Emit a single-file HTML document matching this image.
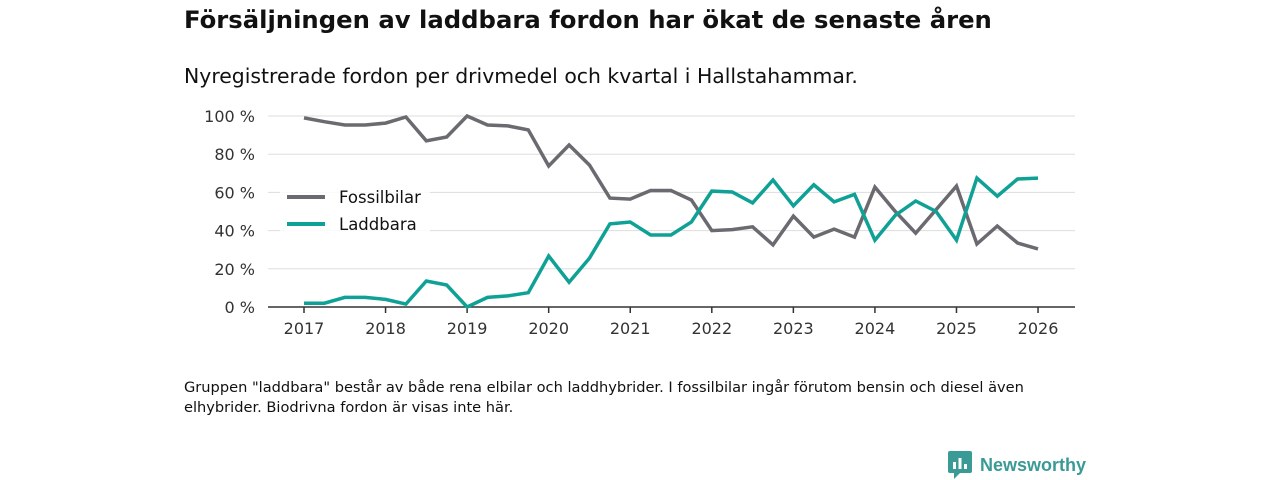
<!DOCTYPE html>
<html><head><meta charset="utf-8"><style>
body{margin:0;width:1280px;height:480px;background:#fff;font-family:"DejaVu Sans","Liberation Sans",sans-serif;color:#111;position:relative;overflow:hidden}
#title{position:absolute;left:184px;top:5px;font-size:24.3px;font-weight:bold;margin:0}
#sub{position:absolute;left:184px;top:64px;font-size:20.4px}
#note{position:absolute;left:184px;top:378px;font-size:14.6px;line-height:20px;width:900px}
#logo{position:absolute;left:948px;top:451px;display:flex;align-items:center;font-size:18px;font-weight:bold;color:#3a9a96;font-family:"Liberation Sans",sans-serif}
svg{position:absolute;left:0;top:0}
</style></head><body>
<h1 id="title">Försäljningen av laddbara fordon har ökat de senaste åren</h1>
<div id="sub">Nyregistrerade fordon per drivmedel och kvartal i Hallstahammar.</div>
<svg id="chart" width="1280" height="360"></svg>
<div id="note">Gruppen "laddbara" består av både rena elbilar och laddhybrider. I fossilbilar ingår förutom bensin och diesel även elhybrider. Biodrivna fordon är visas inte här.</div>
<div id="logo"><svg width="24" height="28" style="position:static;margin-right:8px"><rect x="0" y="0" width="24" height="22" rx="2" fill="#3a9a96"/><polygon points="6,22 12,22 6,28" fill="#3a9a96"/><rect x="5" y="11" width="3" height="7" fill="#fff"/><rect x="10.5" y="7" width="3" height="11" fill="#fff"/><rect x="16" y="13" width="3" height="5" fill="#fff"/></svg>Newsworthy</div>
<script>
const yearTicks=[2017,2018,2019,2020,2021,2022,2023,2024,2025,2026];
const yTicks=[0,20,40,60,80,100];
const startYear=2017;
const fossil=[99,97,95.3,95.3,96.3,99.5,87,89,100,95.3,94.8,92.7,73.8,84.8,74.3,57,56.5,61,61,56,40,40.5,42,32.5,47.6,36.6,40.8,36.6,62.8,50,38.7,51,63.3,33,42.4,33.5,30.4];
const laddbara=[2,2,5,5,4,1.5,13.6,11.5,0,5,5.8,7.5,26.7,13,25.6,43.5,44.5,37.7,37.7,44.5,60.7,60.2,54.5,66.5,53,64,55,59,35,48,55.5,50,35,67.5,58,67,67.5];
const svg=document.getElementById('chart');const NS='http://www.w3.org/2000/svg';
const xS=t=>304+(t-2017)*81.56;const yS=v=>307-v*1.91;
function el(tag,a,p){const e=document.createElementNS(NS,tag);for(const k in a)e.setAttribute(k,a[k]);(p||svg).appendChild(e);return e;}
yTicks.forEach(v=>{if(v>0){const g=el('line',{x1:268,x2:1075,y1:yS(v),y2:yS(v),stroke:'#ddd','stroke-width':1});

}
const t=el('text',{x:255,y:yS(v)+6,'text-anchor':'end','font-size':16,fill:'#333','font-family':'DejaVu Sans, Liberation Sans, sans-serif'});t.textContent=v+' %';

});
const ax=el('line',{x1:268,x2:1075,y1:307,y2:307,stroke:'#333','stroke-width':1.5});


yearTicks.forEach(yr=>{el('line',{x1:xS(yr),x2:xS(yr),y1:307,y2:313,stroke:'#333','stroke-width':1.5});
const t=el('text',{x:xS(yr),y:334,'text-anchor':'middle','font-size':16,fill:'#333','font-family':'DejaVu Sans, Liberation Sans, sans-serif'});t.textContent=yr;

});
function line(data,color,name){const d=data.map((v,i)=>(i?'L':'M')+xS(startYear+i/4).toFixed(1)+','+yS(v).toFixed(1)).join('');
const p=el('path',{d:d,fill:'none',stroke:color,'stroke-width':3.5,'stroke-linejoin':'miter'});

}
line(fossil,'#6b6a70','fossil-line');line(laddbara,'#0fa196','laddbara-line');
el('rect',{x:280,y:180,width:150,height:60,fill:'#fff','fill-opacity':0.85});
[['Fossilbilar','#6b6a70',197],['Laddbara','#0fa196',224]].forEach(([n,c,y])=>{
el('line',{x1:287,x2:325,y1:y,y2:y,stroke:c,'stroke-width':4});
const t=el('text',{x:339,y:y+6,'font-size':16.5,fill:'#111','font-family':'DejaVu Sans, Liberation Sans, sans-serif'});t.textContent=n;

});
</script>
</body></html>
